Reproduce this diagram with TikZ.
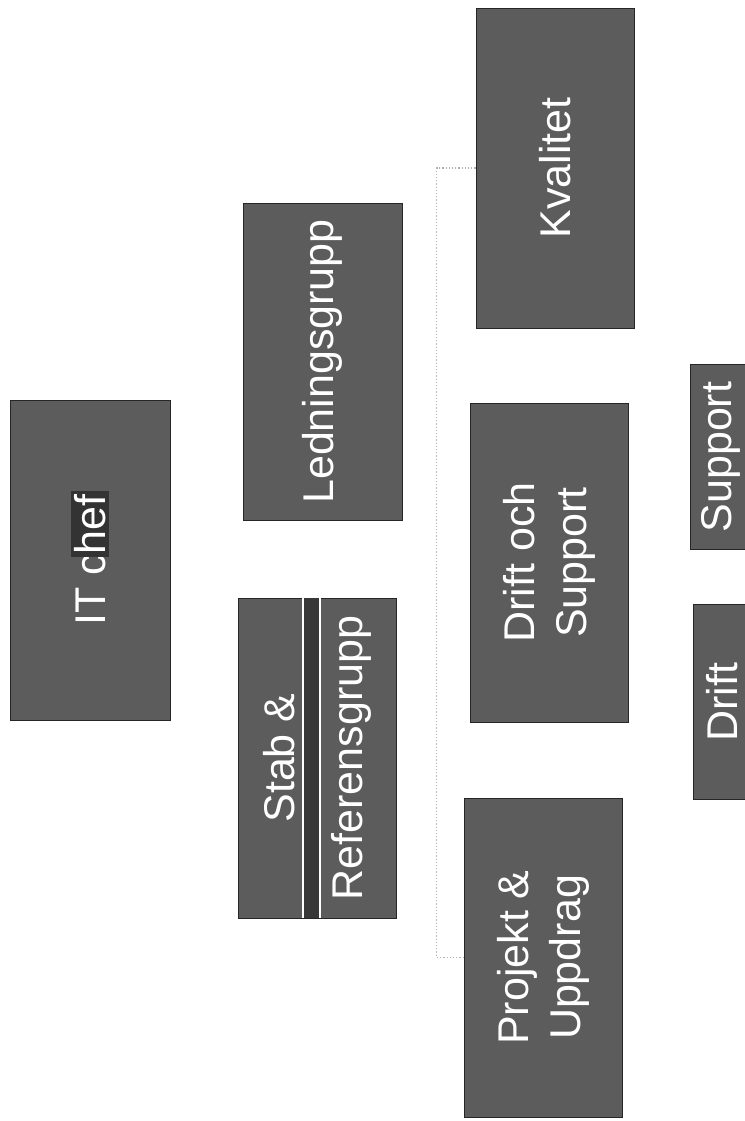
\documentclass[tikz,border=0pt]{standalone}
\usepackage{fontspec}
\setmainfont{Liberation Sans}
\usetikzlibrary{positioning, calc}
\definecolor{boxgray}{gray}{0.36}
\definecolor{markgray}{gray}{0.2}
\tikzset{
  org box/.style={
    rectangle, rotate=90, draw=black!85, fill=boxgray,
    text=white, align=center, inner sep=0pt,
    font=\fontsize{21.5}{26}\selectfont
  },
  org link/.style={
    draw=black!30, densely dotted, line width=0.6pt
  }
}
\begin{document}
\begin{tikzpicture}[x=0.5pt, y=-0.5pt]
  \useasboundingbox (0,0) rectangle (745,1121);

  % boxes are turned, so north is the left side on the page
  \node (itchef) [org box, minimum width=160pt, minimum height=80pt] at (90,560)
    {IT c\kern-1.5pt{\fboxsep=1.5pt\colorbox{markgray}{hef}}\kern-1.5pt};
  \node (leda) [org box, minimum width=158.5pt, minimum height=79.5pt] at (322.5,361.5) {Ledningsgrupp};
  \node (stab) [org box, minimum width=160pt, minimum height=79pt] at (317,758) {Stab \&\\[8pt]Referensgrupp};
  \node (kval) [org box, minimum width=160pt, minimum height=79pt] at (555,168) {Kvalitet};
  \node (drs) [org box, minimum width=159.5pt, minimum height=79pt] at (549,562.5) {Drift och\\Support};
  \node (proj) [org box, minimum width=159.5pt, minimum height=79pt] at (543,957.5) {Projekt \&\\Uppdrag};
  \node (supp) [org box, minimum width=92.5pt, minimum height=31pt] at (721,457) {Support};
  \node (drift) [org box, minimum width=97.5pt, minimum height=29.5pt] at (722.5,702) {Drift};

  % dark band across the Stab box
  \fill [black!78] (303,598) rectangle (320,918);
  \draw [white, line width=0.6pt] (303,598) -- (303,918) (320,598) -- (320,918);

  \coordinate (bus) at ($(kval.north)+(-39,0)$);
  \draw [org link] (kval.north) -- (bus) |- (proj.north);
\end{tikzpicture}
\end{document}
